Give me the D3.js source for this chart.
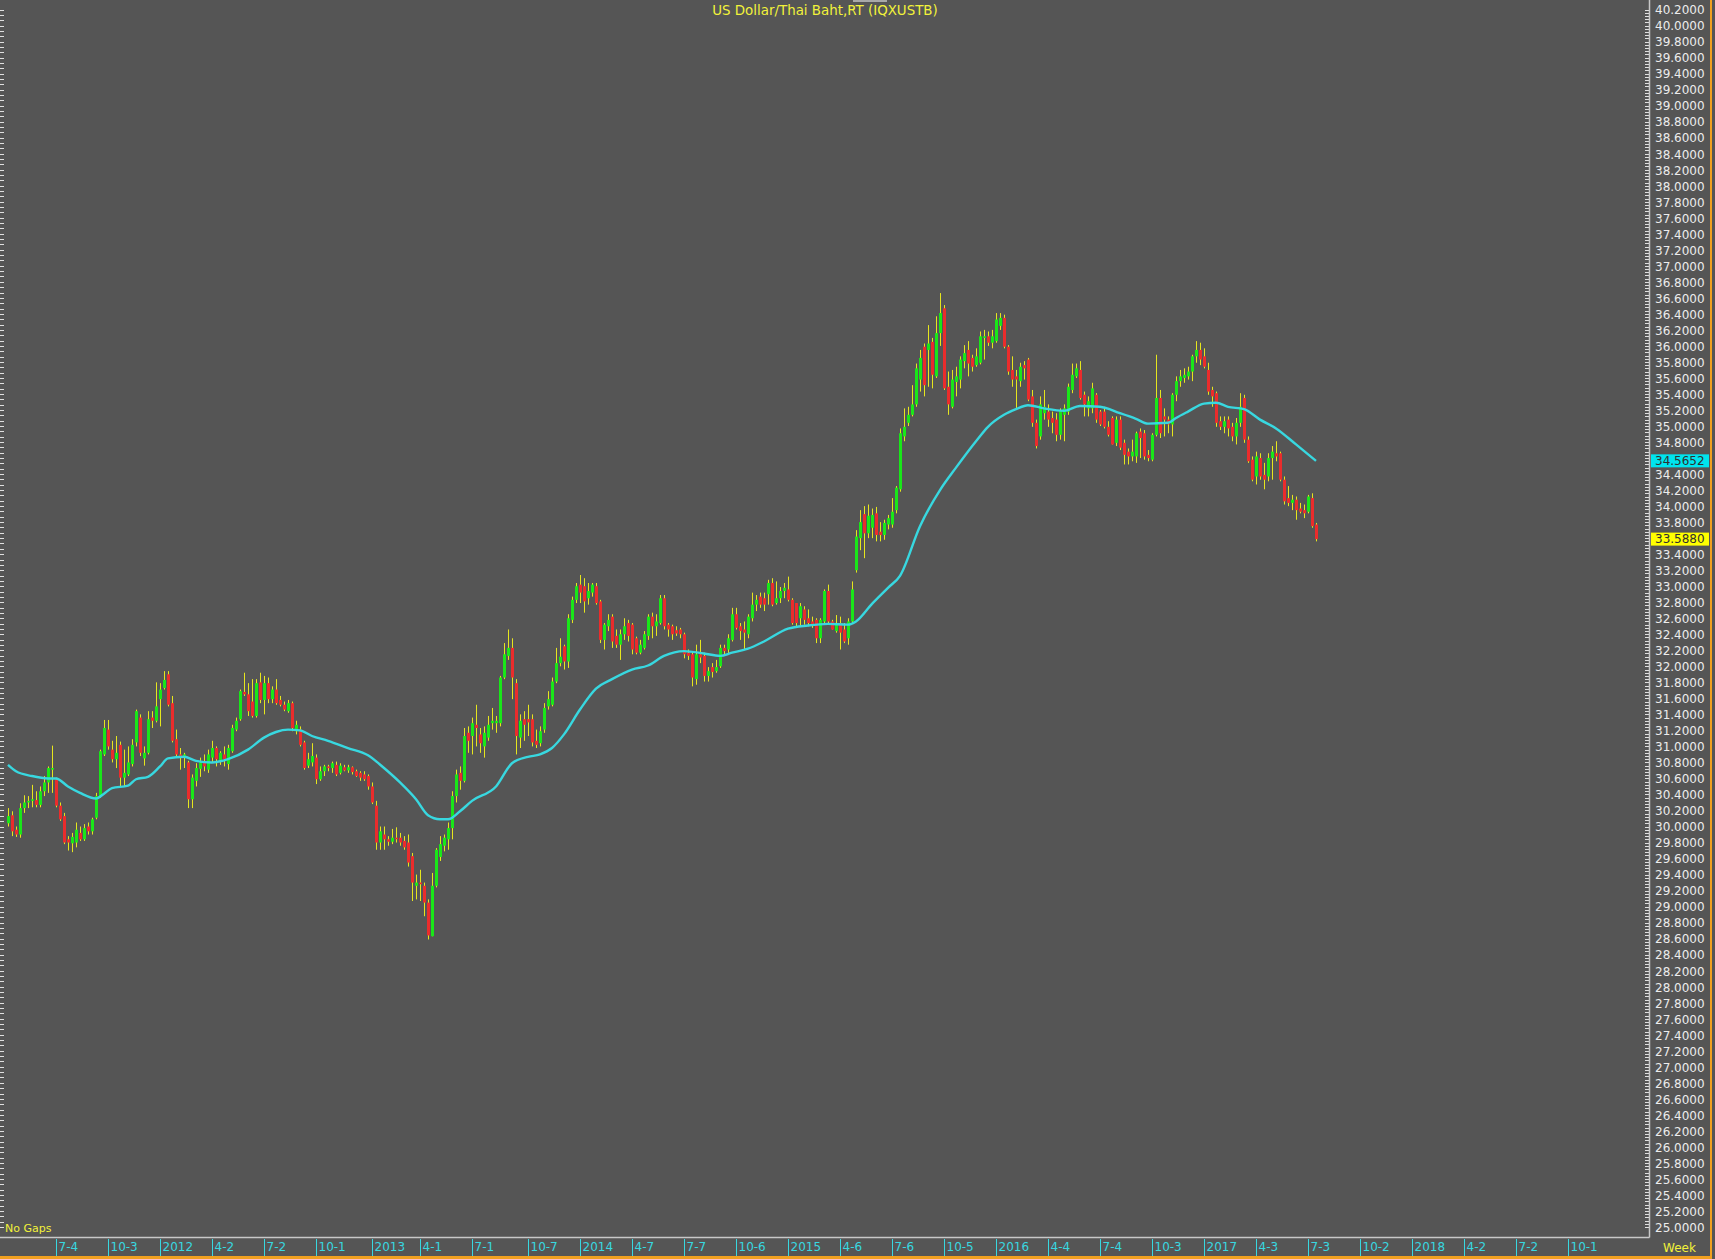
<!DOCTYPE html>
<html><head><meta charset="utf-8">
<script src="https://cdn.jsdelivr.net/npm/d3@7"></script>
<style>
html,body{margin:0;padding:0;background:#555555;}
svg{display:block;}
</style></head><body>
<svg id="c" width="1715" height="1259"></svg>
<script>
// ---------------- data ----------------
const chartTitle = "US Dollar/Thai Baht,RT (IQXUSTB)";
const firstWeek = "2011-04-11";   // Monday of the first weekly bar
const lastWeekOfAxis = "2018-10-01";

const opens = [
30.04,30.14,29.96,29.90,30.23,30.30,30.32,30.33,30.27,30.44,
30.55,30.71,30.59,30.26,30.13,29.84,29.79,29.80,29.92,29.84,
30.00,29.94,30.11,30.38,30.90,31.21,30.96,30.84,31.02,30.61,
30.65,30.78,31.05,31.36,30.85,30.92,31.36,31.32,31.59,31.73,
31.90,31.54,31.09,30.90,30.88,30.80,30.34,30.57,30.72,30.80,
30.71,30.86,30.98,30.82,30.90,30.78,30.94,31.21,31.34,31.68,
31.65,31.56,31.38,31.80,31.58,31.79,31.59,31.71,31.58,31.52,
31.44,31.54,31.19,31.21,31.05,30.76,30.80,30.86,30.59,30.69,
30.75,30.73,30.77,30.67,30.74,30.70,30.74,30.69,30.67,30.65,
30.63,30.50,30.26,29.80,29.90,29.84,29.81,29.86,29.86,29.82,
29.80,29.63,29.26,29.30,29.26,29.05,28.63,29.26,29.62,29.76,
29.84,29.98,30.38,30.67,30.57,31.17,31.13,31.27,31.15,31.00,
31.11,31.29,31.29,31.29,31.86,32.13,32.23,31.79,31.11,31.34,
31.34,31.34,31.07,31.04,31.21,31.50,31.52,31.81,32.04,32.25,
32.06,32.58,32.83,33.02,33.00,32.85,32.92,33.00,32.81,32.33,
32.50,32.62,32.38,32.27,32.40,32.54,32.52,32.35,32.17,32.23,
32.38,32.62,32.50,32.54,32.85,32.52,32.50,32.45,32.46,32.40,
32.17,32.15,31.84,32.15,32.13,31.88,31.99,31.94,32.00,32.23,
32.21,32.33,32.65,32.50,32.46,32.40,32.60,32.77,32.87,32.85,
32.90,33.04,32.79,32.85,32.94,32.96,32.83,32.79,32.60,32.71,
32.60,32.56,32.58,32.35,32.56,32.94,32.56,32.44,32.54,32.46,
32.35,32.56,33.20,33.60,33.90,33.66,33.73,33.91,33.68,33.64,
33.77,33.77,33.95,34.21,34.87,35.04,35.14,35.27,35.58,35.99,
35.95,36.05,35.62,36.16,36.47,35.49,35.24,35.55,35.58,35.81,
35.95,35.85,35.76,35.79,36.10,36.12,36.04,36.06,36.25,36.35,
35.99,35.70,35.62,35.56,35.76,35.83,35.37,35.04,34.87,35.16,
35.18,35.10,35.08,34.89,35.14,35.18,35.45,35.62,35.70,35.39,
35.22,35.22,35.39,35.18,35.18,34.99,35.10,34.79,35.08,34.79,
34.68,34.62,34.62,34.93,34.91,34.64,34.58,34.89,35.35,35.12,
35.08,35.02,35.39,35.56,35.60,35.62,35.68,35.87,35.95,35.87,
35.70,35.45,35.41,35.06,34.99,35.08,34.99,34.87,35.04,35.35,
34.83,34.58,34.37,34.60,34.39,34.37,34.60,34.66,34.66,34.33,
34.10,34.04,34.08,33.97,33.95,33.93,34.10,33.77];

const highs = [
30.23,30.19,30.00,30.29,30.39,30.38,30.52,30.44,30.50,30.63,
30.75,31.01,30.61,30.30,30.17,29.88,29.92,30.05,30.00,30.03,
30.05,30.11,30.42,30.96,31.33,31.33,31.07,31.13,31.06,30.96,
31.00,31.09,31.46,31.40,31.00,31.44,31.44,31.80,31.79,31.94,
31.94,31.63,31.21,30.98,30.92,30.82,30.65,30.79,30.86,30.90,
30.96,31.07,31.00,30.94,31.00,31.02,31.27,31.36,31.71,31.92,
31.79,31.84,31.84,31.92,31.88,31.86,31.75,31.84,31.63,31.56,
31.58,31.56,31.32,31.25,31.07,30.92,31.04,30.90,30.75,30.77,
30.77,30.81,30.81,30.79,30.77,30.77,30.75,30.71,30.69,30.69,
30.65,30.55,30.32,30.00,30.00,29.88,29.97,29.99,29.92,29.88,
29.90,29.67,29.40,29.46,29.30,29.09,29.42,29.73,29.88,29.90,
30.05,30.44,30.71,30.75,31.23,31.25,31.36,31.52,31.23,31.25,
31.38,31.48,31.38,31.88,32.29,32.46,32.35,31.84,31.40,31.44,
31.52,31.40,31.21,31.25,31.54,31.69,31.86,32.23,32.35,32.27,
32.65,32.87,33.04,33.14,33.10,33.04,33.04,33.04,32.83,32.54,
32.65,32.65,32.46,32.46,32.60,32.58,32.54,32.37,32.33,32.44,
32.65,32.67,32.65,32.89,32.89,32.54,32.52,32.50,32.48,32.42,
32.21,32.19,32.27,32.33,32.17,31.99,32.04,32.08,32.27,32.27,
32.40,32.73,32.73,32.54,32.56,32.65,32.92,32.89,32.92,32.92,
33.08,33.10,33.06,32.99,33.04,33.12,32.85,32.79,32.79,32.75,
32.71,32.62,32.60,32.60,32.96,33.02,32.58,32.64,32.62,32.54,
32.60,33.06,33.70,33.95,34.00,34.02,33.97,33.99,33.80,33.83,
33.89,34.10,34.25,34.97,35.22,35.24,35.51,35.78,35.95,36.03,
36.26,36.10,36.37,36.66,36.51,35.68,35.70,35.74,35.87,36.01,
36.06,35.89,35.97,36.18,36.20,36.18,36.20,36.41,36.41,36.39,
36.01,35.87,35.70,35.79,35.81,35.85,35.45,35.08,35.37,35.45,
35.27,35.18,35.16,35.22,35.27,35.53,35.78,35.78,35.81,35.43,
35.37,35.54,35.41,35.20,35.24,35.06,35.12,35.12,35.12,34.83,
34.72,34.83,34.93,34.97,34.95,34.70,34.91,35.89,35.45,35.22,
35.12,35.41,35.62,35.70,35.72,35.74,35.89,36.06,36.04,35.97,
35.79,35.49,35.43,35.12,35.12,35.12,35.04,35.10,35.41,35.39,
34.87,34.62,34.68,34.66,34.54,34.66,34.75,34.81,34.68,34.37,
34.25,34.14,34.12,34.04,34.02,34.14,34.16,33.79];

const lows = [
30.00,29.88,29.87,29.86,30.17,30.23,30.24,30.24,30.24,30.38,
30.42,30.42,30.24,30.07,29.78,29.70,29.68,29.74,29.82,29.82,
29.90,29.90,30.09,30.36,30.88,30.96,30.80,30.73,30.50,30.50,
30.63,30.75,31.00,30.88,30.76,30.90,31.23,31.30,31.25,31.71,
31.50,31.05,30.88,30.71,30.73,30.23,30.23,30.50,30.62,30.69,
30.67,30.80,30.75,30.77,30.75,30.71,30.92,31.19,31.32,31.63,
31.38,31.36,31.36,31.54,31.40,31.54,31.54,31.52,31.50,31.44,
31.42,31.19,31.15,31.00,30.71,30.73,30.75,30.53,30.57,30.63,
30.69,30.67,30.63,30.65,30.69,30.67,30.65,30.62,30.57,30.57,
30.46,30.28,29.71,29.71,29.71,29.76,29.78,29.80,29.76,29.71,
29.50,29.07,29.09,29.07,28.88,28.59,28.63,29.24,29.57,29.69,
29.71,29.84,30.30,30.46,30.55,30.92,30.90,31.00,30.92,30.86,
31.07,31.21,31.17,31.25,31.84,32.08,31.59,30.90,30.98,31.07,
31.13,31.00,30.98,31.00,31.17,31.46,31.50,31.79,32.00,31.96,
31.98,32.54,32.79,32.79,32.67,32.77,32.87,32.77,32.29,32.21,
32.44,32.23,32.23,32.08,32.33,32.31,32.15,32.15,32.15,32.21,
32.33,32.35,32.38,32.52,32.46,32.37,32.33,32.38,32.35,32.10,
32.08,31.75,31.77,32.04,31.81,31.81,31.86,31.92,31.98,32.15,
32.15,32.31,32.46,32.33,32.21,32.35,32.56,32.69,32.73,32.69,
32.77,32.75,32.77,32.79,32.85,32.81,32.52,32.50,32.50,32.52,
32.50,32.48,32.29,32.29,32.54,32.54,32.46,32.42,32.21,32.29,
32.27,32.54,33.17,33.45,33.35,33.60,33.60,33.56,33.56,33.58,
33.71,33.73,33.91,34.18,34.81,35.00,35.12,35.24,35.43,35.37,
35.49,35.47,35.60,36.00,35.45,35.14,35.22,35.37,35.47,35.72,
35.62,35.68,35.74,35.77,35.83,36.00,35.97,36.04,36.20,35.97,
35.64,35.49,35.22,35.49,35.58,35.31,34.99,34.72,34.83,35.08,
34.99,34.91,34.81,34.83,34.81,35.14,35.41,35.60,35.33,35.12,
35.12,35.16,35.04,35.00,34.97,34.87,34.77,34.75,34.70,34.52,
34.52,34.56,34.54,34.60,34.58,34.56,34.56,34.87,34.85,34.87,
34.91,34.87,35.31,35.49,35.54,35.58,35.56,35.79,35.76,35.72,
35.39,35.24,34.99,34.95,34.91,34.87,34.81,34.77,34.99,34.79,
34.54,34.31,34.27,34.33,34.21,34.31,34.33,34.56,34.31,34.02,
34.00,33.95,33.83,33.91,33.85,33.91,33.73,33.56];

const closes = [
30.13,29.94,29.90,30.23,30.30,30.32,30.34,30.27,30.44,30.55,
30.73,30.73,30.26,30.09,29.80,29.80,29.87,29.96,29.84,29.98,
29.94,30.09,30.38,30.94,31.23,31.00,30.84,30.92,30.61,30.67,
30.80,31.02,31.44,30.92,30.92,31.34,31.32,31.50,31.71,31.83,
31.52,31.07,30.90,30.88,30.90,30.34,30.61,30.73,30.80,30.75,
30.90,30.98,30.84,30.92,30.84,30.98,31.23,31.32,31.69,31.65,
31.44,31.38,31.79,31.58,31.79,31.59,31.71,31.54,31.52,31.46,
31.54,31.23,31.27,31.02,30.73,30.84,30.88,30.59,30.69,30.75,
30.73,30.79,30.65,30.76,30.70,30.74,30.68,30.63,30.61,30.59,
30.50,30.30,29.80,29.94,29.84,29.81,29.86,29.85,29.80,29.74,
29.55,29.30,29.30,29.28,29.05,28.64,29.26,29.71,29.78,29.86,
29.98,30.38,30.65,30.57,31.13,31.07,31.29,31.23,31.04,31.17,
31.27,31.32,31.32,31.86,32.15,32.23,31.86,31.13,31.32,31.27,
31.30,31.05,31.02,31.19,31.48,31.59,31.81,32.04,32.12,32.06,
32.60,32.83,33.00,32.92,32.81,32.94,33.02,32.79,32.33,32.52,
32.58,32.31,32.27,32.40,32.50,32.38,32.21,32.17,32.27,32.40,
32.62,32.50,32.56,32.85,32.50,32.46,32.40,32.41,32.40,32.15,
32.13,31.86,32.15,32.11,31.88,31.94,31.93,31.99,32.23,32.19,
32.35,32.65,32.48,32.44,32.42,32.62,32.77,32.83,32.77,32.77,
33.04,32.77,32.85,32.94,32.98,32.83,32.54,32.54,32.75,32.58,
32.54,32.52,32.35,32.58,32.94,32.56,32.46,32.54,32.42,32.31,
32.56,32.96,33.62,33.80,33.66,33.88,33.89,33.64,33.64,33.79,
33.85,33.93,34.23,34.91,34.99,35.14,35.27,35.72,35.85,35.51,
36.03,35.64,36.16,36.41,35.47,35.27,35.58,35.62,35.83,35.91,
35.78,35.74,35.87,36.12,36.12,36.04,36.12,36.33,36.35,35.99,
35.68,35.58,35.58,35.74,35.72,35.33,35.04,34.75,35.27,35.24,
35.08,35.04,34.89,35.20,35.22,35.49,35.64,35.72,35.35,35.27,
35.31,35.47,35.08,35.02,34.99,34.89,34.77,35.08,34.73,34.64,
34.62,34.68,34.91,34.85,34.62,34.60,34.89,35.35,34.91,35.08,
35.02,35.39,35.56,35.62,35.64,35.68,35.87,35.95,35.83,35.74,
35.43,35.37,35.04,34.99,35.06,34.97,34.87,35.04,35.24,34.83,
34.56,34.33,34.62,34.37,34.33,34.60,34.68,34.62,34.33,34.06,
34.04,34.08,33.95,33.93,33.91,34.12,33.75,33.588];

// moving average (cyan line), read at these bar numbers
const maBar = [0,2,6,10,12,15,18,22,24,26,30,32,35,38,40,44,47,51,55,60,64,67,70,73,76,80,85,90,94,98,
102,105,108,110,113,116,122,126,130,133,136,139,143,147,151,156,160,164,169,174,178,181,185,189,195,200,205,210,212,216,
220,223,228,233,237,242,245,249,252,255,259,264,268,273,278,282,285,290,292,295,299,302,305,309,313,317,322,327];
const maValue = [30.77,30.69,30.63,30.60,30.60,30.50,30.42,30.35,30.41,30.48,30.51,30.59,30.62,30.75,30.85,30.87,30.82,30.80,30.84,30.96,
31.11,31.18,31.21,31.20,31.13,31.07,30.98,30.89,30.73,30.55,30.34,30.14,30.09,30.09,30.19,30.32,30.50,30.79,30.87,30.90,
30.98,31.15,31.46,31.72,31.84,31.96,32.01,32.13,32.19,32.16,32.13,32.17,32.22,32.31,32.47,32.51,32.53,32.52,32.56,32.78,
32.98,33.13,33.75,34.20,34.48,34.81,34.99,35.14,35.21,35.26,35.22,35.19,35.25,35.24,35.16,35.09,35.03,35.04,35.10,35.18,
35.28,35.29,35.24,35.21,35.08,34.97,34.77,34.5652];

const lastMA = 34.5652;
const lastClose = 33.588;

const xTickDates = ["2011-07-04","2011-10-03","2012-01-02","2012-04-02","2012-07-02","2012-10-01","2013-01-07","2013-04-01",
"2013-07-01","2013-10-07","2014-01-06","2014-04-07","2014-07-07","2014-10-06","2015-01-05","2015-04-06","2015-07-06",
"2015-10-05","2016-01-04","2016-04-04","2016-07-04","2016-10-03","2017-01-02","2017-04-03","2017-07-03","2017-10-02",
"2018-01-01","2018-04-02","2018-07-02","2018-10-01"];
const xTickLabels = ["7-4","10-3","2012","4-2","7-2","10-1","2013","4-1","7-1","10-7","2014","4-7","7-7","10-6","2015",
"4-6","7-6","10-5","2016","4-4","7-4","10-3","2017","4-3","7-3","10-2","2018","4-2","7-2","10-1"];

const priceMin = 25.0, priceMax = 40.2, priceStep = 0.2;

// ---------------- drawing ----------------
const W = 1715, H = 1259;
const plotRight = 1649.5, plotBottom = 1237.5;
const svg = d3.select("#c");
const BG = "#555555", GREEN = "#19e619", RED = "#ea2c2c", WICK = "#e6e61e",
      CYAN = "#38d8e0", YEL = "#f2f23a", AX = "#c8c8c8", LBL = "#ececec", ORANGE = "#f0a020";

svg.append("rect").attr("width", W).attr("height", H).attr("fill", BG);

const parse = d3.utcParse("%Y-%m-%d");
const t0 = parse(firstWeek);
const week = 7 * 24 * 3600 * 1000;
const dates = closes.map((_, i) => new Date(+t0 + i * week));
const x = d3.scaleUtc().domain([t0, parse(lastWeekOfAxis)]).range([8, 8 + 4 * Math.round((parse(lastWeekOfAxis) - t0) / week)]);
const y = d3.scaleLinear().domain([priceMin, priceMax]).range([1227, 9.5]);

const bars = d3.range(closes.length).map(i => ({d: dates[i], o: opens[i], h: highs[i], l: lows[i], c: closes[i]}));

const plot = svg.append("g");
// wicks
plot.selectAll("rect.wick").data(bars).join("rect").attr("class", "wick")
  .attr("x", d => Math.round(x(d.d)))
  .attr("width", 1)
  .attr("y", d => y(d.h))
  .attr("height", d => Math.max(1, y(d.l) - y(d.h)))
  .attr("fill", WICK);
// bodies
plot.selectAll("rect.body").data(bars).join("rect").attr("class", "body")
  .attr("x", d => Math.round(x(d.d)) - 1)
  .attr("width", 3)
  .attr("y", d => y(Math.max(d.o, d.c)))
  .attr("height", d => Math.max(1.5, Math.abs(y(d.o) - y(d.c))))
  .attr("fill", d => d.c >= d.o ? GREEN : RED);

// moving average
const maPts = maBar.map((b, k) => ({d: new Date(+t0 + b * week), v: maValue[k]}));
plot.append("path").datum(maPts)
  .attr("d", d3.line().x(p => x(p.d)).y(p => y(p.v)).curve(d3.curveMonotoneX))
  .attr("fill", "none").attr("stroke", CYAN).attr("stroke-width", 2.4);

// title
svg.append("rect").attr("x", 853).attr("y", 0).attr("width", 34).attr("height", 2).attr("fill", "#a8a8a8");
svg.append("text").attr("x", 825).attr("y", 15).attr("text-anchor", "middle")
  .attr("font-family", "DejaVu Sans, Verdana, sans-serif").attr("font-size", 13.4)
  .attr("fill", YEL).text(chartTitle);

// right price axis
const nTicks = Math.round((priceMax - priceMin) / priceStep);
const priceTicks = d3.range(nTicks + 1).map(k => +(priceMin + k * priceStep).toFixed(4));
const minorTicks = d3.range(nTicks * 5 + 1).map(k => +(priceMin + k * priceStep / 5).toFixed(4));
const boxes = [{v: lastMA, fill: "#00e4ee"}, {v: lastClose, fill: "#ffff00"}];
const shown = priceTicks.filter(v => boxes.every(b => Math.abs(y(v) - y(b.v)) > 9));

const rAxis = svg.append("g").attr("transform", `translate(${plotRight},0)`)
  .call(d3.axisLeft(y).tickValues(minorTicks).tickSize(5).tickFormat(""));
rAxis.select(".domain").remove();
rAxis.selectAll("line").attr("stroke", "#e0e0e0").attr("shape-rendering", "crispEdges");

const rLab = svg.append("g").attr("transform", `translate(1655,0)`)
  .call(d3.axisRight(y).tickValues(shown).tickSize(0).tickPadding(0).tickFormat(d3.format(".4f")));
rLab.select(".domain").remove();
rLab.selectAll("text").attr("fill", LBL).attr("font-family", "DejaVu Sans, Verdana, sans-serif").attr("font-size", 12)
  .attr("dy", "0.36em");

// left edge ticks
const leftTicks = d3.range(Math.round((priceMax - priceMin) / priceStep * 3) + 1).map(k => priceMin + k * priceStep / 3);
const lAxis = svg.append("g").attr("transform", "translate(0,0)")
  .call(d3.axisRight(y).tickValues(leftTicks).tickSize(4).tickFormat(""));
lAxis.select(".domain").remove();
lAxis.selectAll("line").attr("stroke", "#e0e0e0").attr("shape-rendering", "crispEdges");

// value boxes
boxes.forEach(b => {
  svg.append("rect").attr("x", 1651).attr("y", y(b.v) - 6.5).attr("width", 58).attr("height", 13).attr("fill", b.fill);
  svg.append("text").attr("x", 1655).attr("y", y(b.v)).attr("dy", "0.36em")
    .attr("font-family", "DejaVu Sans, Verdana, sans-serif").attr("font-size", 12).attr("fill", "#303030")
    .text(d3.format(".4f")(b.v));
});

// separators
svg.append("line").attr("x1", plotRight).attr("x2", plotRight).attr("y1", 0).attr("y2", plotBottom)
  .attr("stroke", AX).attr("stroke-width", 1.5);
svg.append("line").attr("x1", 0).attr("x2", plotRight).attr("y1", plotBottom).attr("y2", plotBottom)
  .attr("stroke", AX).attr("stroke-width", 1.5);

// bottom time axis
const xAxisG = svg.append("g").attr("transform", `translate(0,${plotBottom + 1})`)
  .call(d3.axisBottom(x).tickValues(xTickDates.map(parse)).tickSize(18)
    .tickFormat((d, i) => xTickLabels[i]));
xAxisG.select(".domain").remove();
xAxisG.selectAll("line").attr("stroke", CYAN).attr("shape-rendering", "crispEdges");
xAxisG.selectAll("text").attr("fill", CYAN).attr("text-anchor", "start")
  .attr("font-family", "DejaVu Sans, Verdana, sans-serif").attr("font-size", 12)
  .attr("x", 2).attr("y", 4).attr("dy", "0.71em");

svg.append("text").attr("x", 5).attr("y", 1232).attr("font-family", "DejaVu Sans, Verdana, sans-serif")
  .attr("font-size", 11).attr("fill", YEL).text("No Gaps");
svg.append("text").attr("x", 1663).attr("y", 1252).attr("font-family", "DejaVu Sans, Verdana, sans-serif")
  .attr("font-size", 12).attr("fill", YEL).text("Week");

// orange frame
svg.append("rect").attr("x", 1710).attr("y", 0).attr("width", 2).attr("height", H).attr("fill", ORANGE);
svg.append("rect").attr("x", 0).attr("y", 1256).attr("width", 1712).attr("height", 3).attr("fill", ORANGE);
</script>
</body></html>
